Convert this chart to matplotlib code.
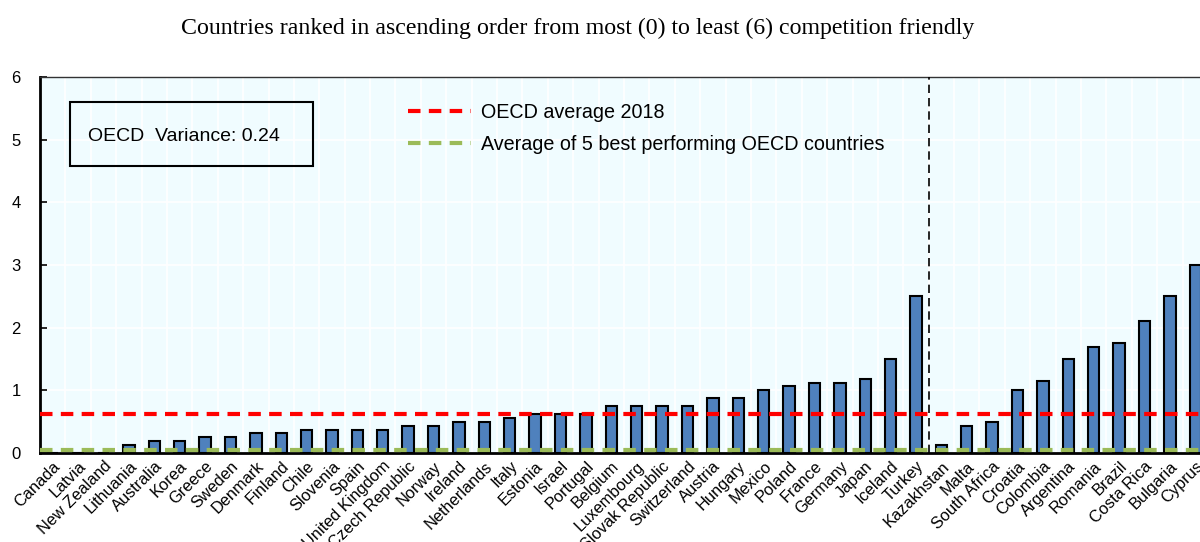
import matplotlib
matplotlib.use("Agg")
import matplotlib.pyplot as plt
from matplotlib.patches import Rectangle
import numpy as np

# Données
countries = [
    "Canada", "Latvia", "New Zealand", "Lithuania", "Australia", "Korea",
    "Greece", "Sweden", "Denmark", "Finland", "Chile", "Slovenia", "Spain",
    "United Kingdom", "Czech Republic", "Norway", "Ireland", "Netherlands",
    "Italy", "Estonia", "Israel", "Portugal", "Belgium", "Luxembourg",
    "Slovak Republic", "Switzerland", "Austria", "Hungary", "Mexico",
    "Poland", "France", "Germany", "Japan", "Iceland", "Turkey",
    "Kazakhstan", "Malta", "South Africa", "Croatia", "Colombia",
    "Argentina", "Romania", "Brazil", "Costa Rica", "Bulgaria", "Cyprus",
]
scores = [
    0.0, 0.0, 0.0, 0.125, 0.1875, 0.1875,
    0.25, 0.25, 0.3125, 0.3125, 0.375, 0.375, 0.375,
    0.375, 0.4375, 0.4375, 0.5, 0.5,
    0.5625, 0.625, 0.625, 0.625, 0.75, 0.75,
    0.75, 0.75, 0.875, 0.875, 1.0,
    1.0625, 1.125, 1.125, 1.1875, 1.5, 2.5,
    0.125, 0.4375, 0.5, 1.0, 1.15,
    1.5, 1.69, 1.75, 2.11, 2.5, 3.0,
]
n_oecd = 35
oecd_average = 0.62
best5_average = 0.05
oecd_variance = 0.24

plt.rcParams['font.family'] = ['Liberation Sans', 'DejaVu Sans']

fig = plt.figure(figsize=(12, 5.42), dpi=100)
ax = fig.add_axes([40 / 1200, 89 / 542, 1168 / 1200, 376 / 542])
ax.set_facecolor('#F0FCFF')

x = np.arange(len(countries))
ax.bar(x, scores, width=0.45, color='#4F81BD', edgecolor='black',
       linewidth=1.5, zorder=3)

ax.set_xlim(-0.5, len(countries) - 0.5)
ax.set_ylim(0, 6)

# grille blanche
for xb in np.arange(0.5, len(countries) - 0.5, 1):
    ax.axvline(xb, color='white', linewidth=1.2, zorder=1)
for yb in range(1, 6):
    ax.axhline(yb, color='white', linewidth=1.2, zorder=1)

ax.axhline(oecd_average, color='#FF0000', linestyle=(0, (3, 2)),
           linewidth=3, zorder=4, label='OECD average 2018')
ax.axhline(best5_average, color='#9BBB59', linestyle=(0, (3, 2)),
           linewidth=3, zorder=4,
           label='Average of 5 best performing OECD countries')

ax.axvline(n_oecd - 0.5, color='black', linestyle=(0, (5, 3)),
           linewidth=1.2, zorder=4)

ax.set_yticks(range(0, 7))
ax.tick_params(axis='y', direction='in', length=5, width=1.2,
               labelsize=12, pad=14)
ax.set_xticks(x)
ax.set_xticklabels(countries, rotation=45, ha='right', rotation_mode='anchor',
                   fontsize=11.8)
ax.tick_params(axis='x', length=0, pad=4)

for side in ['left', 'bottom']:
    ax.spines[side].set_linewidth(2)
    ax.spines[side].set_color('black')
ax.spines['top'].set_linewidth(1)
ax.spines['top'].set_color('#333333')
ax.spines['right'].set_visible(False)

# encadré de la variance
ax.add_patch(Rectangle((0.0257, 0.763), 0.208, 0.17, transform=ax.transAxes,
                       facecolor='none', edgecolor='black', linewidth=1.5,
                       zorder=5))
ax.text(0.0411, 0.843, "OECD  Variance: " + str(oecd_variance),
        transform=ax.transAxes, fontsize=14, va='center', ha='left',
        zorder=5)

ax.legend(loc='upper left', bbox_to_anchor=(0.300, 0.977), frameon=False,
          fontsize=14.2, handlelength=3.2, handletextpad=0.5,
          labelspacing=0.65)

fig.text(0.481, 0.948,
         "Countries ranked in ascending order from most (0) to least (6) competition friendly",
         ha='center', va='center', fontsize=17.2, family=['Liberation Serif'])

fig.savefig("out.png", dpi=100)
